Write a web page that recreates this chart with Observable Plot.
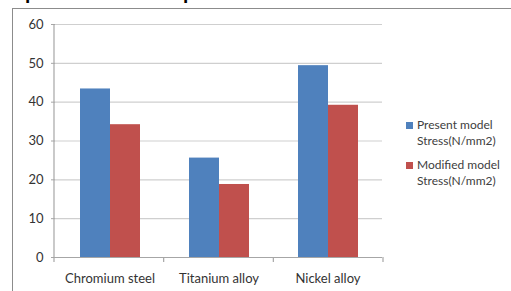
<!DOCTYPE html>
<html>
<head>
<meta charset="utf-8">
<script src="https://cdn.jsdelivr.net/npm/d3@7"></script>
<script src="https://cdn.jsdelivr.net/npm/@observablehq/plot@0.6"></script>
<style>
  html, body { margin: 0; padding: 0; background: #fff; }
  #wrap { position: relative; width: 511px; height: 291px; overflow: hidden; background: #fff; font-family: Lato, "Liberation Sans", sans-serif; }
  #frame { position: absolute; left: 12px; top: 8px; width: 600px; height: 400px; border-left: 1px solid #8c8c8c; border-top: 1px solid #8c8c8c; box-sizing: border-box; }
  .title { position: absolute; top: -17px; font: bold 19px "Liberation Sans", Arial, sans-serif; color: #000; white-space: nowrap; line-height: 19px; }
  #chart { position: absolute; left: 0; top: 0; }
  #legend { position: absolute; left: 406px; top: 117px; font-size: 12px; color: #404040; line-height: 16px; }
  .item { position: relative; padding-left: 11px; }
  .sw { position: absolute; left: 0; top: 5px; width: 7px; height: 7px; }
</style>
</head>
<body>
<div id="wrap">
  <div class="title" style="right:336px">Comparison between</div>
  <div class="title" style="left:183px">present and modified model</div>
  <div id="frame"></div>
  <div id="chart"></div>
  <div id="legend"></div>
</div>
<script>
const categories = ["Chromium steel", "Titanium alloy", "Nickel alloy"];
const seriesNames = ["Present model Stress(N/mm2)", "Modified model Stress(N/mm2)"];
const legendLines = [["Present model", "Stress(N/mm2)"], ["Modified model", "Stress(N/mm2)"]];
const presentValues = [43.4, 25.6, 49.4];
const modifiedValues = [34.2, 18.8, 39.2];
const yTicks = [0, 10, 20, 30, 40, 50, 60];
const colors = ["#4f81bd", "#c0504d"];

const data = categories.flatMap((c, i) => [
  {cat: c, series: seriesNames[0], value: presentValues[i]},
  {cat: c, series: seriesNames[1], value: modifiedValues[i]}
]);

const plot = Plot.plot({
  width: 400,
  height: 291,
  marginLeft: 54,
  marginRight: 17,
  marginTop: 24,
  marginBottom: 34,
  style: {fontFamily: "Lato, 'Liberation Sans', sans-serif", fontSize: "13px", color: "#333", background: "transparent", overflow: "visible"},
  fx: {domain: categories, padding: 0, label: null, tickSize: 0, tickPadding: 16},
  x: {domain: seriesNames, paddingInner: 0, paddingOuter: 0.77, axis: null},
  y: {domain: [0, 60], ticks: yTicks, label: null, tickSize: 4, tickPadding: 8},
  color: {domain: seriesNames, range: colors},
  marks: [
    Plot.ruleY(yTicks.filter(d => d > 0), {stroke: "#cfcfcf", strokeWidth: 1.2}),
    Plot.barY(data, {fx: "cat", x: "series", y: "value", fill: "series"}),
    Plot.ruleY([0], {stroke: "#a6a6a6", strokeWidth: 1.2})
  ]
});
document.getElementById("chart").appendChild(plot);

// y axis tick marks grey, axis line and category boundary ticks
const svg = d3.select(plot);
svg.selectAll("[aria-label='y-axis tick'] path, g[aria-label='y-axis'] path").attr("stroke", "#a6a6a6");
const fxs = plot.scale("fx");
const ys = plot.scale("y");
const [r0, r1] = fxs.range;
const n = fxs.domain.length;
const yb = ys.apply(0), yt = ys.apply(60);
svg.append("line").attr("x1", r0).attr("x2", r0).attr("y1", yt).attr("y2", yb + 5)
  .attr("stroke", "#a6a6a6").attr("stroke-width", 1.2);
d3.range(1, n + 1).forEach(i => {
  const x = r0 + (r1 - r0) * i / n;
  svg.append("line").attr("x1", x).attr("x2", x).attr("y1", yb).attr("y2", yb + 5)
    .attr("stroke", "#a6a6a6").attr("stroke-width", 1.2);
});

const legend = d3.select("#legend");
seriesNames.forEach((s, i) => {
  const it = legend.append("div").attr("class", "item").style("margin-bottom", i === 0 ? "8px" : "0");
  it.append("div").attr("class", "sw").style("background", colors[i]);
  it.append("div").html(legendLines[i].join("<br>"));
});
</script>
</body>
</html>
